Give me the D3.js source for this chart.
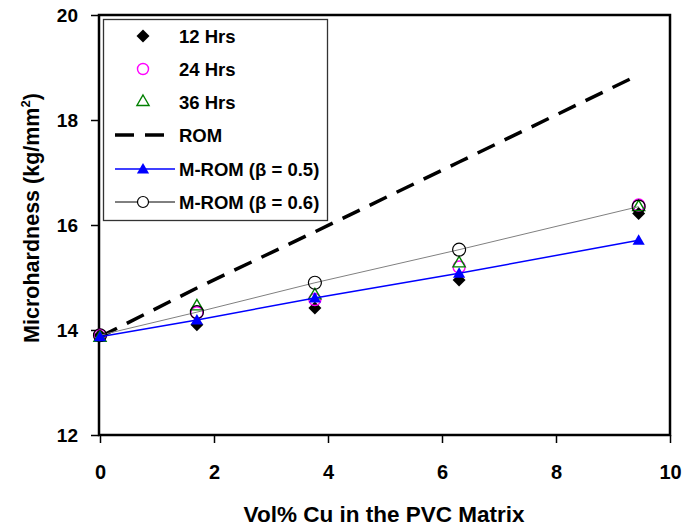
<!DOCTYPE html>
<html><head><meta charset="utf-8">
<script src="https://cdn.jsdelivr.net/npm/d3@7"></script>
<style>body{margin:0;background:#fff}svg{display:block;font-family:"Liberation Sans",Arial,sans-serif;font-weight:bold}</style>
</head><body><svg id="c" width="696" height="527"></svg>
<script>
const xVals = [0, 1.7, 3.77, 6.3, 9.45];
const hrs12 = [13.9, 14.1, 14.42, 14.95, 16.22];
const hrs24 = [13.9, 14.33, 14.58, 15.2, 16.38];
const hrs36 = [13.85, 14.45, 14.66, 15.27, 16.34];
const rom = [13.87, 14.8, 15.87, 17.2, 18.86];
const mrom05 = [13.87, 14.19, 14.61, 15.08, 15.71];
const mrom06 = [13.9, 14.34, 14.9, 15.53, 16.35];
const xTicks = [0, 2, 4, 6, 8, 10];
const yTicks = [12, 14, 16, 18, 20];
const legendLabels = ["12 Hrs", "24 Hrs", "36 Hrs", "ROM", "M-ROM (\u03B2 = 0.5)", "M-ROM (\u03B2 = 0.6)"];

const svg = d3.select("#c");
const L = 99, R = 670, T = 15, B = 435;
const x = d3.scaleLinear().domain([0, 10]).range([L + 1, R]);
const y = d3.scaleLinear().domain([12, 20]).range([B, T]);
const FF = "Liberation Sans, Arial, sans-serif";

// axes
const xAxis = d3.axisBottom(x).tickValues(xTicks).tickSize(8).tickFormat(d3.format("d"));
const gx = svg.append("g").attr("transform", `translate(0,${B})`).call(xAxis);
gx.select(".domain").remove();
gx.selectAll("text").attr("y", 30).attr("font-size", 20).attr("font-weight", "bold").attr("fill", "#000").attr("font-family", FF);
gx.selectAll("line").attr("stroke", "#000").attr("stroke-width", 1.5);

const yAxis = d3.axisLeft(y).tickValues(yTicks).tickSize(8).tickPadding(13).tickFormat(d3.format("d"));
const gy = svg.append("g").attr("transform", `translate(${L},0)`).call(yAxis);
gy.select(".domain").remove();
gy.selectAll("text").attr("font-size", 19).attr("font-weight", "bold").attr("fill", "#000").attr("font-family", FF);
gy.selectAll("line").attr("stroke", "#000").attr("stroke-width", 1.5);

// frame
svg.append("rect").attr("x", L).attr("y", T).attr("width", R - L).attr("height", B - T)
  .attr("fill", "none").attr("stroke", "#000").attr("stroke-width", 2.5);

// titles
svg.append("text").attr("x", 384).attr("y", 522).attr("text-anchor", "middle").attr("font-size", 22.5).text("Vol% Cu in the PVC Matrix");
const yt = svg.append("text").attr("transform", "translate(39,218) rotate(-90)").attr("text-anchor", "middle").attr("font-size", 21.5);
yt.append("tspan").text("Microhardness (kg/mm");
yt.append("tspan").attr("font-size", 13).attr("dy", -9).text("2");
yt.append("tspan").attr("dy", 9).text(")");

const pts = arr => xVals.map((v, i) => [x(v), y(arr[i])]);
const line = d3.line();

const diamond = d3.symbol().type(d3.symbolSquare).size(84);
const tri = d3.symbol().type(d3.symbolTriangle).size(64);

// data markers
const g = svg.append("g");
g.selectAll(".d12").data(pts(hrs12)).join("path").attr("d", diamond())
  .attr("transform", d => `translate(${d[0]},${d[1]}) rotate(45)`).attr("fill", "#000");
g.selectAll(".d24").data(pts(hrs24)).join("circle").attr("cx", d => d[0]).attr("cy", d => d[1]).attr("r", 6)
  .attr("fill", "none").attr("stroke", "#ff00ff").attr("stroke-width", 1.4);
g.selectAll(".d36").data(pts(hrs36)).join("path").attr("d", tri())
  .attr("transform", d => `translate(${d[0]},${d[1]})`).attr("fill", "none").attr("stroke", "#008000").attr("stroke-width", 1.4);

// ROM
svg.append("path").attr("d", line(pts(rom))).attr("fill", "none").attr("stroke", "#000").attr("stroke-width", 3.5).attr("stroke-dasharray", "19,11");
// M-ROM 0.6
svg.append("path").attr("d", line(pts(mrom06))).attr("fill", "none").attr("stroke", "#808080").attr("stroke-width", 1);
svg.selectAll(".m06").data(pts(mrom06)).join("circle").attr("cx", d => d[0]).attr("cy", d => d[1]).attr("r", 6.5)
  .attr("fill", "none").attr("stroke", "#000").attr("stroke-width", 1.2);
// M-ROM 0.5
svg.append("path").attr("d", line(pts(mrom05))).attr("fill", "none").attr("stroke", "#0000ff").attr("stroke-width", 1.5);
svg.selectAll(".m05").data(pts(mrom05)).join("path").attr("d", tri())
  .attr("transform", d => `translate(${d[0]},${d[1] + 1})`).attr("fill", "#0000ff");

// legend
const lg = svg.append("g");
lg.append("rect").attr("x", 103.5).attr("y", 19.5).attr("width", 224).attr("height", 201)
  .attr("fill", "#fff").attr("stroke", "#333").attr("stroke-width", 1.3);
const ly = [36, 69, 102, 135, 169, 202];
const sx = 143;
legendLabels.forEach((t, i) => {
  lg.append("text").attr("x", 179).attr("y", ly[i] + 7).attr("font-size", 18.5).text(t);
});
lg.append("path").attr("d", diamond()).attr("transform", `translate(${sx},${ly[0]}) rotate(45)`).attr("fill", "#000");
lg.append("circle").attr("cx", sx).attr("cy", ly[1]).attr("r", 5.5).attr("fill", "none").attr("stroke", "#ff00ff").attr("stroke-width", 1.4);
lg.append("path").attr("d", tri()).attr("transform", `translate(${sx},${ly[2]})`).attr("fill", "none").attr("stroke", "#008000").attr("stroke-width", 1.4);
lg.append("line").attr("x1", 115).attr("x2", 175).attr("y1", ly[3]).attr("y2", ly[3]).attr("stroke", "#000").attr("stroke-width", 3.5).attr("stroke-dasharray", "19,11");
lg.append("line").attr("x1", 115).attr("x2", 175).attr("y1", ly[4]).attr("y2", ly[4]).attr("stroke", "#0000ff").attr("stroke-width", 1.5);
lg.append("path").attr("d", tri()).attr("transform", `translate(${sx},${ly[4] + 1})`).attr("fill", "#0000ff");
lg.append("line").attr("x1", 115).attr("x2", 175).attr("y1", ly[5]).attr("y2", ly[5]).attr("stroke", "#000").attr("stroke-width", 1);
lg.append("circle").attr("cx", sx).attr("cy", ly[5]).attr("r", 5.5).attr("fill", "#fff").attr("stroke", "#000").attr("stroke-width", 1.2);
</script></body></html>
